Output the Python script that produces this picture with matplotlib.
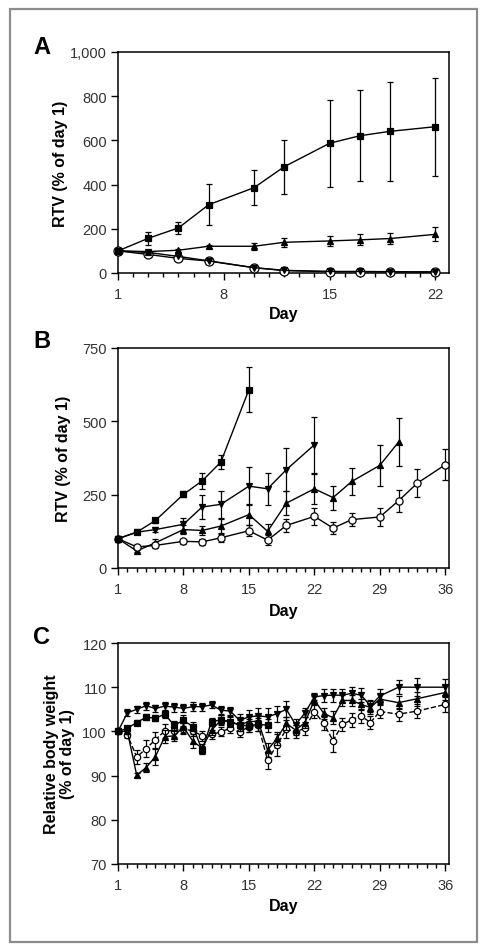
import matplotlib
matplotlib.use("Agg")
import matplotlib.pyplot as plt
from matplotlib.patches import Rectangle
from matplotlib.ticker import MultipleLocator, FuncFormatter

plt.rcParams['font.family'] = ['Liberation Sans', 'DejaVu Sans']

# ---- panel A: relative tumour volume, short study ----
days_a = [1, 3, 5, 7, 10, 12, 15, 17, 19, 22]
a_square = [100, 157, 204, 309, 386, 481, 587, 621, 641, 662]
a_square_sd = [0, 29, 28, 93, 78, 122, 198, 205, 225, 221]
a_tri_up = [100, 97, 103, 121, 121, 139, 145, 150, 156, 175]
a_tri_up_sd = [0, 5, 6, 6, 15, 20, 22, 25, 25, 32]
a_tri_down = [100, 93, 75, 55, 24, 12, 7, 7, 6, 5]
a_circle = [100, 84, 66, 54, 24, 11, 6, 6, 5, 4]

# ---- panel B: relative tumour volume, long study ----
days_b_sq = [1, 3, 5, 8, 10, 12, 15]
b_square = [100, 122, 162, 251, 297, 361, 608]
b_square_sd = [0, 6, 8, 10, 27, 24, 76]
days_b_down = [1, 3, 5, 8, 10, 12, 15, 17, 19, 22]
b_tri_down = [100, 122, 131, 149, 208, 217, 279, 270, 335, 420]
b_tri_down_sd = [0, 5, 8, 20, 40, 45, 64, 54, 74, 95]
days_b_up = [1, 3, 5, 8, 10, 12, 15, 17, 19, 22, 24, 26, 29, 31]
b_tri_up = [100, 58, 86, 131, 128, 143, 182, 125, 221, 270, 240, 295, 350, 429]
b_tri_up_sd = [0, 5, 12, 15, 15, 25, 37, 26, 40, 51, 41, 47, 69, 82]
days_b_circ = [1, 3, 5, 8, 10, 12, 15, 17, 19, 22, 24, 26, 29, 31, 33, 36]
b_circle = [100, 72, 77, 91, 89, 103, 127, 95, 145, 176, 136, 165, 174, 229, 289, 352]
b_circle_sd = [0, 6, 8, 8, 10, 14, 18, 17, 22, 30, 20, 22, 32, 38, 47, 52]

# ---- panel C: relative body weight ----
days_c = list(range(1, 30)) + [31, 33, 36]
c_tri_down = [100, 104.2, 105.0, 105.8, 105.2, 105.7, 105.5, 105.2, 105.6, 105.6,
              106.0, 104.8, 104.6, 102.5, 103.3, 103.5, 103.3, 104.0, 105.0, 101.5,
              104.2, 107.8, 108.1, 108.2, 108.2, 108.6, 108.2, 105.8, 108.0, 110.0,
              110.0, 110.0]
c_tri_down_sd = [0, 0.8, 0.8, 0.9, 0.8, 0.9, 1.0, 0.9, 1.0, 0.9, 0.8, 0.9, 1.0, 1.5,
                 1.6, 1.7, 1.9, 1.8, 1.8, 1.3, 1.0, 0.8, 1.5, 1.5, 1.5, 1.5, 1.6,
                 1.3, 1.6, 1.6, 2.0, 1.8]
c_tri_up = [100, 100, 90.1, 91.8, 94.3, 98.8, 99.0, 101.0, 97.8, 96.2, 100.3, 102.5,
            102.2, 101.5, 102.2, 102.3, 95.8, 98.4, 101.8, 100.3, 102.0, 107.1, 104.1,
            103.1, 107.0, 107.0, 106.1, 105.4, 107.3, 106.5, 107.4, 108.8]
c_tri_up_sd = [0, 0.6, 0.5, 1.0, 1.8, 1.5, 1.2, 1.3, 1.5, 1.0, 1.2, 1.1, 1.2, 1.3,
               1.2, 1.3, 1.5, 1.5, 1.5, 1.2, 1.2, 1.0, 1.3, 1.5, 1.2, 1.2, 1.3, 1.5,
               1.2, 1.5, 1.6, 1.7]
c_circle = [100, 99.2, 94.2, 96.1, 98.1, 100.1, 100.2, 100.6, 100.1, 99.0, 99.3, 99.9,
            100.7, 99.8, 101.1, 101.4, 93.5, 96.9, 100.5, 99.9, 100.7, 104.5, 101.8,
            97.9, 101.6, 102.6, 103.5, 102.0, 104.5, 103.9, 104.6, 106.1]
c_circle_sd = [0, 0.8, 1.5, 2.0, 1.8, 1.5, 1.5, 1.2, 1.2, 1.2, 1.0, 1.0, 1.0, 1.0,
               1.2, 1.2, 2.0, 2.5, 2.0, 1.5, 1.5, 1.5, 1.5, 2.5, 1.5, 1.5, 1.5, 1.5,
               1.5, 1.5, 1.5, 1.7]
days_c_sq = list(range(1, 18))
c_square = [100, 100.7, 102.0, 103.2, 103.0, 103.9, 101.4, 102.5, 101.1, 95.8,
            102.2, 102.6, 102.2, 101.4, 101.3, 101.6, 101.4]
c_square_sd = [0, 0.6, 0.6, 0.7, 0.7, 0.8, 1.0, 1.2, 1.0, 0.8, 0.9, 1.0, 1.0, 1.2,
               1.5, 1.5, 1.5]

W, H = 487, 953
fig = plt.figure(figsize=(W / 100, H / 100), dpi=100)
fig.add_artist(Rectangle((10 / W, 10 / H), 467 / W, 933 / H, transform=fig.transFigure,
                         fill=False, edgecolor='#8c8c8c', linewidth=1.6))


def make_axes(top, bottom):
    ax = fig.add_axes([118 / W, 1 - bottom / H, 331 / W, (bottom - top) / H])
    for s in ax.spines.values():
        s.set_linewidth(1.1)
    ax.tick_params(axis='both', which='both', direction='out', labelsize=10.5,
                   labelcolor='#333333', width=1)
    ax.tick_params(axis='x', which='major', length=5, pad=5)
    ax.tick_params(axis='x', which='minor', length=3)
    ax.tick_params(axis='y', which='major', length=5, pad=3)
    ax.xaxis.set_minor_locator(MultipleLocator(1))
    return ax


def series(ax, x, y, err, marker, ms, face='black', ls='-', z=3):
    ax.errorbar(x, y, yerr=err, color='black', linestyle=ls, linewidth=1, marker=marker,
                markersize=ms, markerfacecolor=face, markeredgecolor='black',
                markeredgewidth=0.9, capsize=2.5, elinewidth=0.9, capthick=0.9,
                clip_on=False, zorder=z)


# A
ax = make_axes(53, 274)
series(ax, days_a, a_circle, None, 'o', 6.5, face='white', z=3)
series(ax, days_a, a_tri_down, None, 'v', 3.8, z=4)
series(ax, days_a, a_tri_up, a_tri_up_sd, '^', 4.0, z=4)
series(ax, days_a, a_square, a_square_sd, 's', 4.8, z=5)
ax.set_xlim(1, 22.9)
ax.set_ylim(0, 1000)
ax.set_xticks([1, 8, 15, 22])
ax.set_yticks([0, 200, 400, 600, 800, 1000])
ax.yaxis.set_major_formatter(FuncFormatter(lambda v, p: f'{v:,.0f}'))
ax.set_ylabel('RTV (% of day 1)', fontsize=11.5, fontweight='bold')
ax.set_xlabel('Day', fontsize=11.5, fontweight='bold')
ax.yaxis.set_label_coords(-0.151, 0.5)
ax.xaxis.set_label_coords(0.5, -0.148)

# B
ax = make_axes(349, 569)
series(ax, days_b_up, b_tri_up, b_tri_up_sd, '^', 4.2, z=3)
series(ax, days_b_down, b_tri_down, b_tri_down_sd, 'v', 4.2, z=3)
series(ax, days_b_circ, b_circle, b_circle_sd, 'o', 5.2, face='white', z=4)
series(ax, days_b_sq, b_square, b_square_sd, 's', 4.8, z=5)
ax.set_xlim(1, 36.4)
ax.set_ylim(0, 750)
ax.set_xticks([1, 8, 15, 22, 29, 36])
ax.set_yticks([0, 250, 500, 750])
ax.set_ylabel('RTV (% of day 1)', fontsize=11.5, fontweight='bold')
ax.set_xlabel('Day', fontsize=11.5, fontweight='bold')
ax.yaxis.set_label_coords(-0.142, 0.5)
ax.xaxis.set_label_coords(0.5, -0.158)

# C
ax = make_axes(644, 865)
series(ax, days_c, c_circle, c_circle_sd, 'o', 4.6, face='white', ls='--', z=3)
series(ax, days_c, c_tri_up, c_tri_up_sd, '^', 3.8, z=4)
series(ax, days_c_sq, c_square, c_square_sd, 's', 3.9, z=4)
series(ax, days_c, c_tri_down, c_tri_down_sd, 'v', 3.8, z=5)
ax.set_xlim(1, 36.4)
ax.set_ylim(70, 120)
ax.set_xticks([1, 8, 15, 22, 29, 36])
ax.set_yticks([70, 80, 90, 100, 110, 120])
ax.set_ylabel('Relative body weight\n(% of day 1)', fontsize=11.5, fontweight='bold',
              linespacing=1.1)
ax.set_xlabel('Day', fontsize=11.5, fontweight='bold')
ax.yaxis.set_label_coords(-0.13, 0.5)
ax.xaxis.set_label_coords(0.5, -0.153)

for letter, yc in [('A', 47), ('B', 342), ('C', 637)]:
    fig.text(33 / W, 1 - yc / H, letter, fontsize=17, fontweight='bold',
             ha='left', va='center')

fig.savefig('out.png', dpi=100)
